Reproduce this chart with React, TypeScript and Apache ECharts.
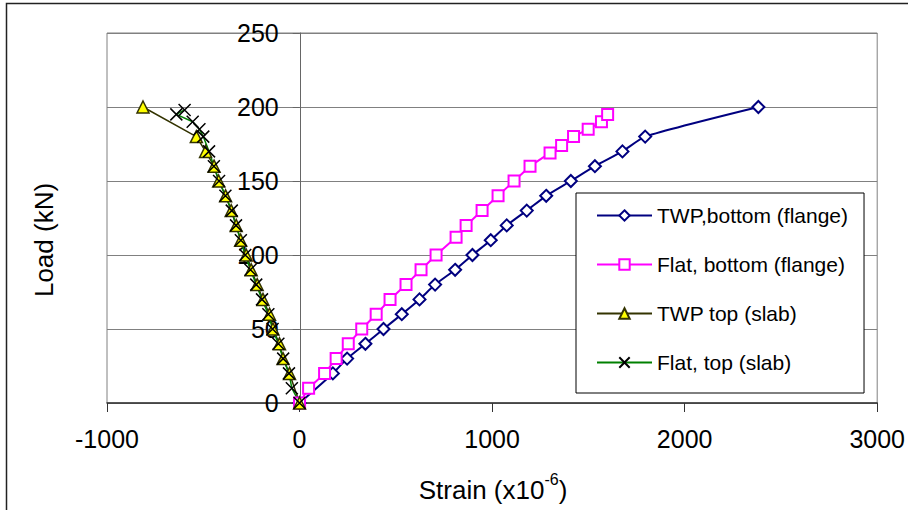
import React, { useEffect, useRef } from "react";
import * as echarts from "echarts";

const twpBottomX = [0, 173, 247, 342, 436, 531, 623, 704, 808, 898, 993, 1076, 1180, 1281, 1409, 1534, 1677, 1795, 2383];
const twpBottomY = [0, 20, 30, 40, 50, 60, 70, 80, 90, 100, 110, 120, 130, 140, 150, 160, 170, 180, 200];

const flatBottomX = [0, 47, 130, 190, 253, 323, 398, 470, 553, 631, 709, 813, 865, 948, 1031, 1114, 1197, 1301, 1361, 1423, 1499, 1568, 1600];
const flatBottomY = [0, 10, 20, 30, 40, 50, 60, 70, 80, 90, 100, 112, 120, 130, 140, 150, 160, 169, 174, 180, 185, 190, 195];

const twpTopX = [0, -52, -86, -104, -138, -156, -190, -220, -251, -277, -306, -329, -355, -384, -420, -444, -488, -536, -813];
const twpTopY = [0, 20, 30, 40, 50, 60, 70, 80, 90, 100, 110, 120, 130, 140, 150, 160, 170, 180, 200];

const flatTopX = [0, -40, -55, -85, -110, -140, -162, -195, -225, -255, -282, -305, -330, -352, -385, -418, -445, -470, -500, -520, -555, -640, -597];
const flatTopY = [0, 10, 20, 30, 40, 50, 60, 70, 80, 90, 100, 110, 120, 130, 140, 150, 160, 170, 180, 185, 190, 195, 198];

const xTicks = { min: -1000, max: 3000, interval: 1000 };
const yTicks = { min: 0, max: 250, interval: 50 };

const seriesNames = ["TWP,bottom (flange)", "Flat, bottom (flange)", "TWP top (slab)", "Flat, top (slab)"];

const FONT = "'Liberation Sans', Arial, Helvetica, sans-serif";

const GRID_LEFT = 107;
const GRID_RIGHT = 30;
const CHART_W = 908;

function pairs(xs: number[], ys: number[]) {
  return xs.map((x, i) => [x, ys[i]]);
}

export default function App() {
  const ref = useRef<HTMLDivElement>(null);
  useEffect(() => {
    if (!ref.current) return;
    const chart = echarts.init(ref.current, undefined, { renderer: "svg" });
    const plotW = CHART_W - GRID_LEFT - GRID_RIGHT;
    const zeroOffset = (plotW * (0 - xTicks.min)) / (xTicks.max - xTicks.min);
    chart.setOption({
      animation: false,
      backgroundColor: "#ffffff",
      textStyle: { fontFamily: FONT },
      grid: {
        left: GRID_LEFT,
        right: GRID_RIGHT,
        top: 33,
        bottom: 107,
        show: true,
        borderColor: "#808080",
        borderWidth: 1,
        backgroundColor: "transparent",
      },
      legend: {
        orient: "vertical",
        left: 576,
        top: 193,
        width: 292,
        data: seriesNames,
        itemWidth: 55,
        itemHeight: 13,
        itemGap: 28,
        padding: [12, 16, 20, 20],
        backgroundColor: "#ffffff",
        borderColor: "#000000",
        borderWidth: 1,
        borderRadius: 0,
        textStyle: { fontFamily: FONT, fontSize: 21, color: "#000" },
      },
      xAxis: {
        type: "value",
        min: xTicks.min,
        max: xTicks.max,
        interval: xTicks.interval,
        axisLine: { show: true, onZero: false, lineStyle: { color: "#333333", width: 1.5 } },
        axisTick: { show: true, length: 9, lineStyle: { color: "#333333" } },
        axisLabel: {
          fontSize: 25,
          color: "#000",
          margin: 23,
          fontFamily: FONT,
          formatter: (v: number) => String(v),
        },
        splitLine: { show: false },
      },
      yAxis: {
        type: "value",
        min: yTicks.min,
        max: yTicks.max,
        interval: yTicks.interval,
        offset: -zeroOffset,
        axisLine: { show: true, onZero: false, lineStyle: { color: "#666666", width: 1 } },
        axisTick: { show: true, length: 7, lineStyle: { color: "#666666" } },
        axisLabel: { fontSize: 25, color: "#000", margin: 21, fontFamily: FONT },
        splitLine: { show: true, lineStyle: { color: "#808080", width: 1 } },
      },
      graphic: [
        {
          type: "rect",
          shape: { x: 6.5, y: 3.5, width: 1200, height: 1200 },
          style: { fill: "none", stroke: "#222222", lineWidth: 1.5 },
          silent: true,
        },
        {
          type: "text",
          x: 44,
          y: 240,
          rotation: Math.PI / 2,
          style: {
            text: "Load (kN)",
            fontSize: 26,
            fontFamily: FONT,
            fill: "#000",
            align: "center",
            verticalAlign: "middle",
          },
        },
        {
          type: "text",
          x: 493,
          y: 487,
          style: {
            text: "{a|Strain (x10}{s|-6}{a|)}",
            fontFamily: FONT,
            align: "center",
            verticalAlign: "middle",
            rich: {
              a: { fontSize: 26, fontFamily: FONT, fill: "#000", lineHeight: 32, verticalAlign: "bottom" },
              s: { fontSize: 16, fontFamily: FONT, fill: "#000", lineHeight: 32, verticalAlign: "top" },
            },
          },
        },
      ],
      series: [
        {
          name: seriesNames[0],
          type: "line",
          data: pairs(twpBottomX, twpBottomY),
          symbol: "diamond",
          symbolSize: 12,
          smooth: 0.2,
          itemStyle: { color: "#ffffff", borderColor: "#000080", borderWidth: 2 },
          lineStyle: { color: "#000080", width: 2 },
        },
        {
          name: seriesNames[1],
          type: "line",
          data: pairs(flatBottomX, flatBottomY),
          symbol: "rect",
          symbolSize: 11,
          itemStyle: { color: "#ffffff", borderColor: "#ff00ff", borderWidth: 2 },
          lineStyle: { color: "#ff00ff", width: 2 },
        },
        {
          name: seriesNames[2],
          type: "line",
          data: pairs(twpTopX, twpTopY),
          symbol: "triangle",
          symbolSize: 12,
          itemStyle: { color: "#ffff00", borderColor: "#333300", borderWidth: 1.5 },
          lineStyle: { color: "#333300", width: 1.5 },
        },
        {
          name: seriesNames[3],
          type: "line",
          data: pairs(flatTopX, flatTopY),
          symbol: "path://M0,0L10,10M10,0L0,10",
          symbolSize: 12,
          itemStyle: { color: "none", borderColor: "#000000", borderWidth: 1.5 },
          lineStyle: { color: "#008000", width: 1.5 },
        },
      ],
    });
    return () => chart.dispose();
  }, []);
  return (
    <div
      ref={ref}
      style={{ position: "fixed", left: 0, top: 0, width: 908, height: 510, background: "#fff" }}
    />
  );
}
